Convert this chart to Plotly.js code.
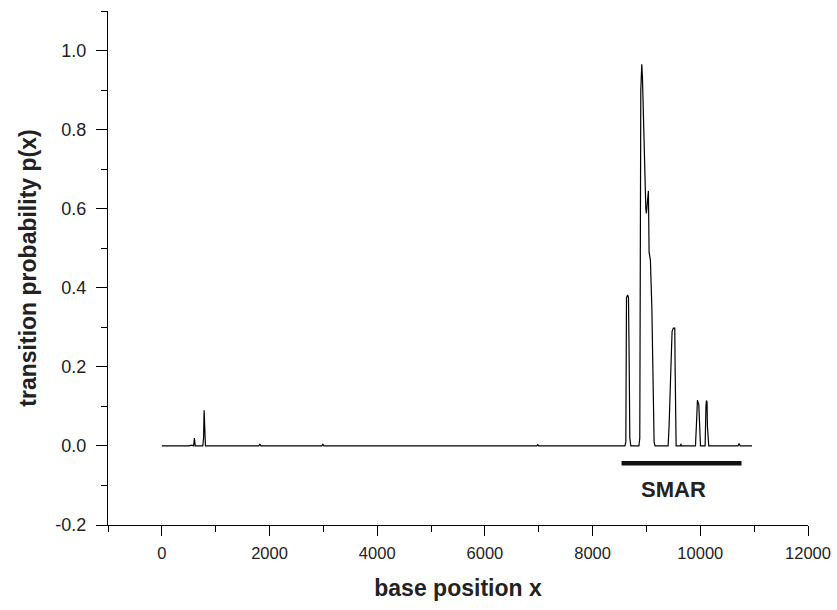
<!DOCTYPE html>
<html>
<head>
<meta charset="utf-8">
<script src="https://cdn.plot.ly/plotly-3.0.1.min.js"></script>
<style>html,body{margin:0;padding:0;background:#fff;}</style>
</head>
<body>
<div id="chart" style="width:837px;height:610px;"></div>
<script>
// base positions and transition probability
const basePos = [0, 500, 560, 590, 605, 620, 760, 775, 785, 795, 810,
  1800, 1820, 1840, 2970, 2990, 3010, 6960, 6980, 7000,
  8600, 8617, 8629, 8650, 8666, 8680, 8691, 8710, 8860, 8876, 8895, 8913, 8926,
  8988, 8999, 9036, 9049, 9073, 9100, 9142, 9160,
  9402, 9420, 9450, 9476, 9500, 9526, 9532, 9551, 9630, 9640, 9650,
  9910, 9930, 9947, 9960, 9972, 10003, 10089, 10105, 10114, 10125, 10132, 10157,
  10700, 10720, 10740, 10960];
const prob = [0, 0, 0.002, 0, 0.02, 0, 0, 0.02, 0.09, 0.02, 0,
  0, 0.005, 0, 0, 0.004, 0, 0, 0.003, 0,
  0, 0.01, 0.375, 0.382, 0.375, 0.2, 0.02, 0, 0, 0.02, 0.9, 0.965, 0.93,
  0.6, 0.588, 0.645, 0.49, 0.47, 0.35, 0.01, 0,
  0, 0.05, 0.18, 0.29, 0.298, 0.298, 0.2, 0, 0, 0.005, 0,
  0, 0.06, 0.116, 0.11, 0.105, 0, 0, 0.1, 0.115, 0.11, 0.05, 0,
  0, 0.006, 0, 0];
// SMAR region
const smarX = [8537, 10765];
const smarY = [-0.044, -0.044];
const smarLabel = "SMAR";
// tick labels
const xTickVals = [0, 2000, 4000, 6000, 8000, 10000, 12000];
const xTickText = ["0", "2000", "4000", "6000", "8000", "10000", "12000"];
const yTickVals = [-0.2, 0, 0.2, 0.4, 0.6, 0.8, 1.0];
const yTickText = ["-0.2", "0.0", "0.2", "0.4", "0.6", "0.8", "1.0"];
const xTitle = "base position x";
const yTitle = "transition probability p(x)";

const traces = [
  {x: basePos, y: prob, type: 'scatter', mode: 'lines',
   line: {color: '#000', width: 1.2}, hoverinfo: 'skip'},
  {x: smarX, y: smarY, type: 'scatter', mode: 'lines',
   line: {color: '#111', width: 4.5}, hoverinfo: 'skip'}
];
const fontFam = 'Liberation Sans, Arial, Helvetica, sans-serif';
const layout = {
  width: 837, height: 610,
  margin: {l: 108, r: 29, t: 11, b: 85},
  paper_bgcolor: '#fff', plot_bgcolor: '#fff',
  showlegend: false,
  font: {family: fontFam, color: '#222', size: 16},
  xaxis: {
    range: [-1000, 12000], tickmode: 'array', tickvals: xTickVals, ticktext: xTickText,
    showgrid: false, zeroline: false, showline: true, linecolor: '#000', linewidth: 1,
    ticks: 'outside', ticklen: 10, tickwidth: 1, tickcolor: '#000', ticklabelstandoff: 3,
    minor: {dtick: 1000, tick0: 0, ticks: 'outside', ticklen: 6, tickcolor: '#000', showgrid: false},
    tickfont: {size: 16.5, family: fontFam, color: '#222'},
    title: {text: '<b>' + xTitle + '</b>', font: {size: 23, family: fontFam, color: '#222'}, standoff: 19}
  },
  yaxis: {
    range: [-0.2, 1.1], tickmode: 'array', tickvals: yTickVals, ticktext: yTickText,
    showgrid: false, zeroline: false, showline: true, linecolor: '#000', linewidth: 1,
    ticks: 'outside', ticklen: 11, tickwidth: 1, tickcolor: '#000', ticklabelstandoff: 6,
    minor: {dtick: 0.1, tick0: 0, ticks: 'outside', ticklen: 6, tickcolor: '#000', showgrid: false},
    tickfont: {size: 18, family: fontFam, color: '#222'},
    title: {text: '<b>' + yTitle + '</b>', font: {size: 23, family: fontFam, color: '#222'}, standoff: 12}
  },
  annotations: [{
    x: 9500, y: -0.109, xref: 'x', yref: 'y',
    text: '<b>' + smarLabel + '</b>', showarrow: false,
    font: {size: 22, family: fontFam, color: '#222'}
  }]
};
Plotly.newPlot('chart', traces, layout, {displayModeBar: false, staticPlot: true});
</script>
</body>
</html>
